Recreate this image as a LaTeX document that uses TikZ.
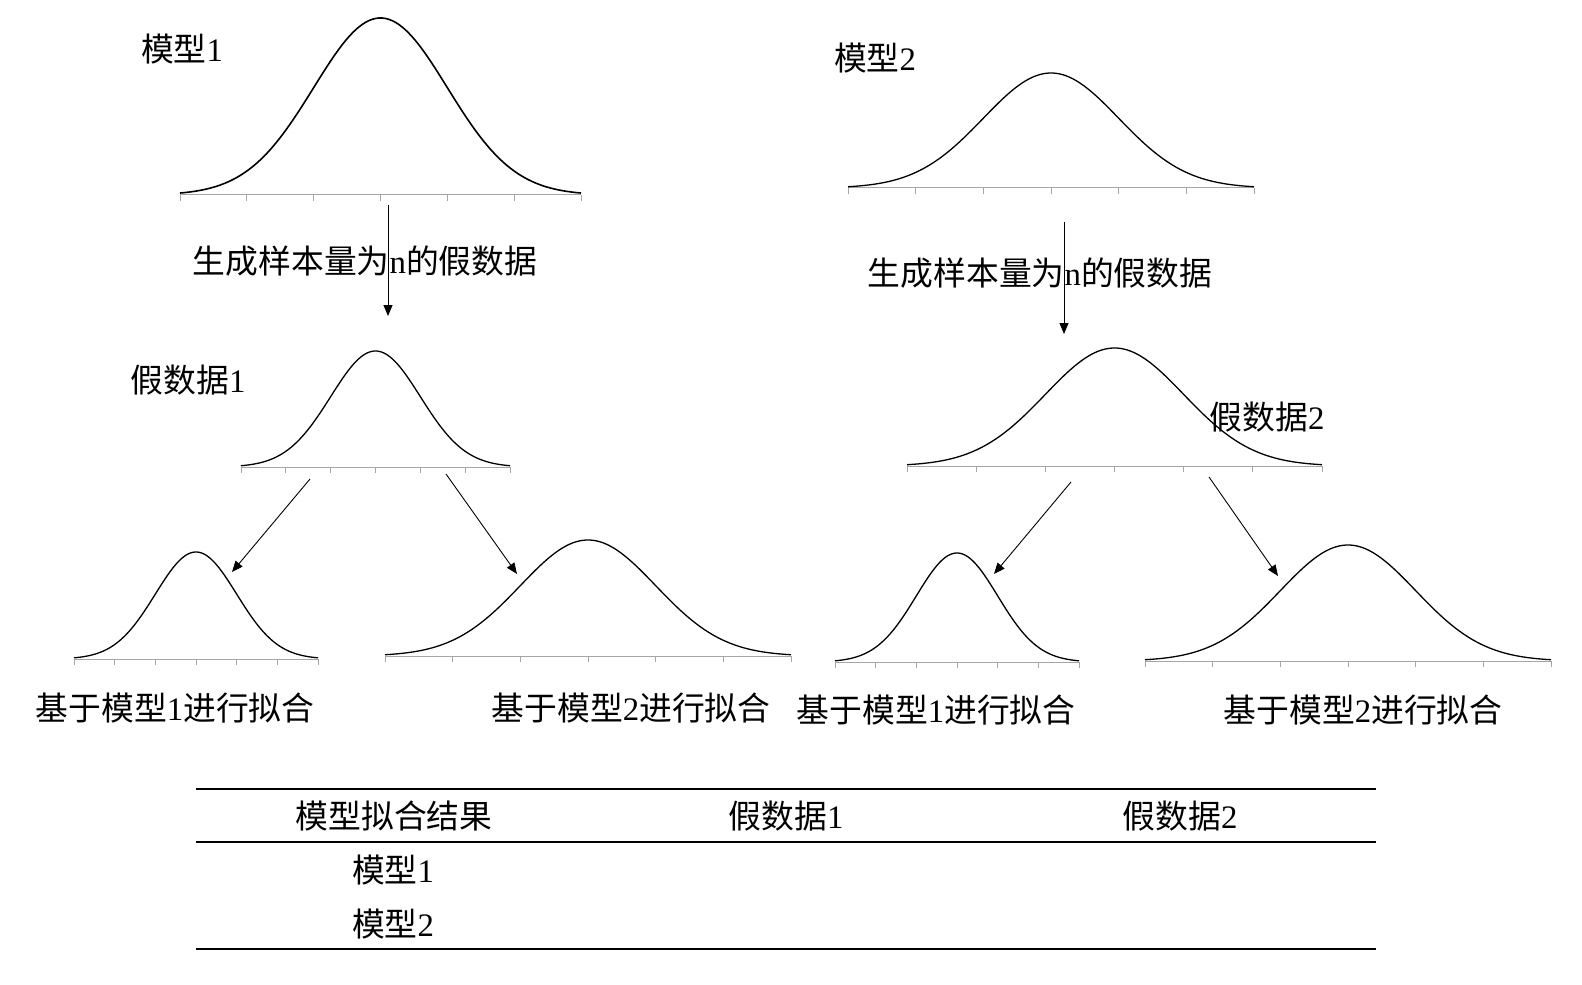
\documentclass[tikz,border=0pt]{standalone}
\usepackage{fontspec}
\setmainfont{Liberation Serif}
\newfontfamily\cjk{Noto Sans CJK SC}
\usetikzlibrary{arrows.meta}
\tikzset{
  curve/.style={line width=0.8pt, black},
  thincurve/.style={line width=0.65pt, black},
  axisline/.style={line width=0.5pt, black!35},
  conn/.style={line width=0.45pt, -{Triangle[length=5.5pt,width=4.5pt]}},
  lbl/.style={font=\fontsize{16.4}{18}\selectfont, inner sep=0pt, anchor=center},
  rule/.style={line width=0.9pt}
}
% #1 x0, #2 x1, #3 baseline y, #4 peak y, #5 style
\newcommand{\gauss}[5]{%
  \pgfmathsetmacro{\xc}{(#1+#2)/2}%
  \pgfmathsetmacro{\sg}{(#2-#1)/6}%
  \draw[axisline] (#1,#3) -- (#2,#3);
  \foreach \i in {0,...,6}{\draw[axisline] ({#1+\i*(#2-#1)/6},#3) -- ++(0,6);}
  \draw[#5] plot[domain=#1:#2, samples=120, smooth] (\x, {#3-(#3-#4)*exp(-((\x-\xc)/\sg)^2/2)});
}
\begin{document}
\begin{tikzpicture}[x=0.5pt,y=-0.5pt]
\useasboundingbox (0,0) rectangle (1582,984);
% curves
\gauss{180}{581}{195}{18}{curve}
\gauss{848}{1254}{188}{73}{thincurve}
\gauss{241}{510}{467}{351}{thincurve}
\gauss{907}{1322}{466}{348}{thincurve}
\gauss{74}{318}{659}{552}{thincurve}
\gauss{385}{791}{656}{540}{thincurve}
\gauss{835}{1079}{662}{553}{thincurve}
\gauss{1145}{1551}{661}{545}{thincurve}
% arrow anchors
\coordinate (a1s) at (388,205); \coordinate (a1e) at (388,316);
\coordinate (a2s) at (1064,222); \coordinate (a2e) at (1064,334);
\coordinate (a3s) at (310,479); \coordinate (a3e) at (232,572);
\coordinate (a4s) at (446,474); \coordinate (a4e) at (517,574);
\coordinate (a5s) at (1071,482); \coordinate (a5e) at (994,574);
\coordinate (a6s) at (1209,477); \coordinate (a6e) at (1278,576);
% labels
\node[lbl] (m1) at (182,49) {{\cjk 模型}1};
\node[lbl] (m2) at (875,58) {{\cjk 模型}2};
\node[lbl] (g1) at (365,261) {{\cjk 生成样本量为}n{\cjk 的假数据}};
\node[lbl] (g2) at (1040,273) {{\cjk 生成样本量为}n{\cjk 的假数据}};
\node[lbl] (d1) at (188,380) {{\cjk 假数据}1};
\node[lbl] (d2) at (1267,417) {{\cjk 假数据}2};
\node[lbl] (f1) at (175,708) {{\cjk 基于模型}1{\cjk 进行拟合}};
\node[lbl] (f2) at (631,708) {{\cjk 基于模型}2{\cjk 进行拟合}};
\node[lbl] (f3) at (936,710) {{\cjk 基于模型}1{\cjk 进行拟合}};
\node[lbl] (f4) at (1363,710) {{\cjk 基于模型}2{\cjk 进行拟合}};
% arrows
\draw[conn] (a1s) -- (a1e);
\draw[conn] (a2s) -- (a2e);
\draw[conn] (a3s) -- (a3e);
\draw[conn] (a4s) -- (a4e);
\draw[conn] (a5s) -- (a5e);
\draw[conn] (a6s) -- (a6e);
% table
\coordinate (t1l) at (196,789); \coordinate (t1r) at (1376,789);
\coordinate (t2l) at (196,842); \coordinate (t2r) at (1376,842);
\coordinate (t3l) at (196,949); \coordinate (t3r) at (1376,949);
\draw[rule] (t1l) -- (t1r);
\draw[rule] (t2l) -- (t2r);
\draw[rule] (t3l) -- (t3r);
\node[lbl] (h1) at (394,816) {{\cjk 模型拟合结果}};
\node[lbl] (h2) at (786,816) {{\cjk 假数据}1};
\node[lbl] (h3) at (1180,816) {{\cjk 假数据}2};
\node[lbl] (r1) at (393,870) {{\cjk 模型}1};
\node[lbl] (r2) at (393,924) {{\cjk 模型}2};
\end{tikzpicture}
\end{document}
